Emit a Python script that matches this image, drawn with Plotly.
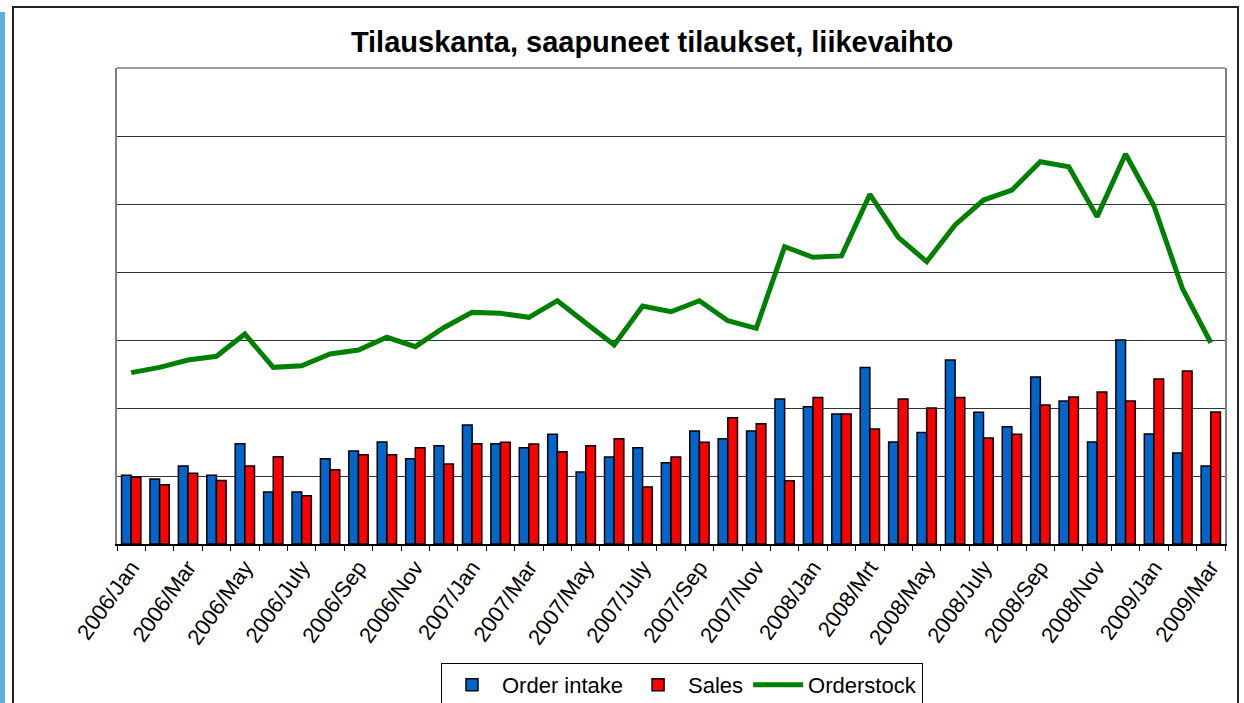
import plotly.graph_objects as go

months = [
    "2006/Jan", "2006/Feb", "2006/Mar", "2006/Apr", "2006/May", "2006/June",
    "2006/July", "2006/Aug", "2006/Sep", "2006/Oct", "2006/Nov", "2006/Dec",
    "2007/Jan", "2007/Feb", "2007/Mar", "2007/Apr", "2007/May", "2007/June",
    "2007/July", "2007/Aug", "2007/Sep", "2007/Oct", "2007/Nov", "2007/Dec",
    "2008/Jan", "2008/Feb", "2008/Mrt", "2008/Apr", "2008/May", "2008/June",
    "2008/July", "2008/Aug", "2008/Sep", "2008/Oct", "2008/Nov", "2008/Dec",
    "2009/Jan", "2009/Feb", "2009/Mar",
]
order_intake = [505, 478, 574, 505, 738, 382, 382, 627, 684, 750, 627, 723, 875,
                738, 708, 807, 529, 640, 708, 598, 831, 774, 831,
                1066, 1010, 956, 1297, 750, 819, 1353, 968, 863,
                1228, 1051, 750, 1500, 809, 669, 574]
sales = [490, 436, 520, 466, 574, 642, 355, 546, 657, 657, 708, 588, 738,
         748, 735, 679, 723, 774, 419, 640, 748, 929, 885,
         465, 1078, 956, 846, 1066, 1000, 1078, 779, 807,
         1022, 1081, 1118, 1051, 1213, 1272, 971]
orderstock = [1260, 1299, 1353, 1380, 1544, 1299, 1311, 1397, 1426, 1520, 1451, 1590, 1703,
              1696, 1667, 1789, 1625, 1463, 1750, 1708, 1789, 1642, 1586,
              2186, 2108, 2118, 2571, 2255, 2076, 2346, 2529, 2603,
              2811, 2774, 2407, 2868, 2485, 1880, 1480]
tick_text = [m if i % 2 == 0 else "" for i, m in enumerate(months)]

FONT = "Liberation Sans, Arial, sans-serif"

fig = go.Figure()
fig.add_trace(go.Bar(x=months, y=order_intake, name="Order intake",
                     marker=dict(color="#0066CC", line=dict(color="black", width=1.5))))
fig.add_trace(go.Bar(x=months, y=sales, name="Sales",
                     marker=dict(color="#FF0000", line=dict(color="black", width=1.5))))
fig.add_trace(go.Scatter(x=months, y=orderstock, name="Orderstock", mode="lines",
                         line=dict(color="#008000", width=5)))

FW, FH = 1244, 703
# plot area geometry in px: x 117..1225, y 68..544
L, R, T, B = 117, 1225, 68, 544
W, H = R - L, B - T
def px(x):
    return (x - L) / W
def py(y):
    return (B - y) / H

fig.update_layout(
    width=FW, height=FH,
    margin=dict(l=L, r=FW - R, t=T, b=FH - B, autoexpand=False),
    paper_bgcolor="white", plot_bgcolor="white",
    barmode="group", bargap=0.32, bargroupgap=0,
    font=dict(family=FONT, color="black"),
    title=dict(text="<b>Tilauskanta, saapuneet tilaukset, liikevaihto</b>",
               x=652 / FW, xanchor="center", y=1 - 42 / FH, yanchor="middle",
               font=dict(size=29, family=FONT, color="black")),
    showlegend=True,
    legend=dict(orientation="h", x=px(682), xanchor="center", y=py(663), yanchor="top",
                bordercolor="black", borderwidth=1, bgcolor="white",
                font=dict(size=22, family=FONT, color="black"),
                itemwidth=50, traceorder="normal", tracegroupgap=0),
    xaxis=dict(type="category", tickmode="array", tickvals=months, ticktext=tick_text,
               tickangle=-55, tickfont=dict(size=22, family=FONT, color="black"),
               tickson="boundaries", ticks="outside", ticklen=5, tickcolor="black",
               showline=True, linecolor="black", linewidth=1.5,
               showgrid=False, automargin=False),
    yaxis=dict(range=[0, 3500], dtick=500, showticklabels=False,
               showgrid=True, gridcolor="#333333", gridwidth=1,
               showline=True, linecolor="#808080", linewidth=1.5, mirror=True,
               zeroline=False, ticks="", automargin=False),
    shapes=[
        dict(type="rect", xref="paper", yref="paper",
             x0=px(13), x1=px(1238), y0=py(715), y1=py(7),
             line=dict(color="#222222", width=2), fillcolor="rgba(0,0,0,0)", layer="below"),
        dict(type="rect", xref="paper", yref="paper",
             x0=px(0), x1=px(5), y0=py(703), y1=py(12),
             line=dict(width=0), fillcolor="#5AAEE4", layer="below"),
        dict(type="line", xref="paper", yref="paper",
             x0=0, x1=1, y0=1, y1=1, line=dict(color="#808080", width=1.5)),
    ],
)

fig.write_html("out.html",
               config={"displayModeBar": False},
               post_script="document.body.style.margin='0px';document.body.style.overflow='hidden';")
